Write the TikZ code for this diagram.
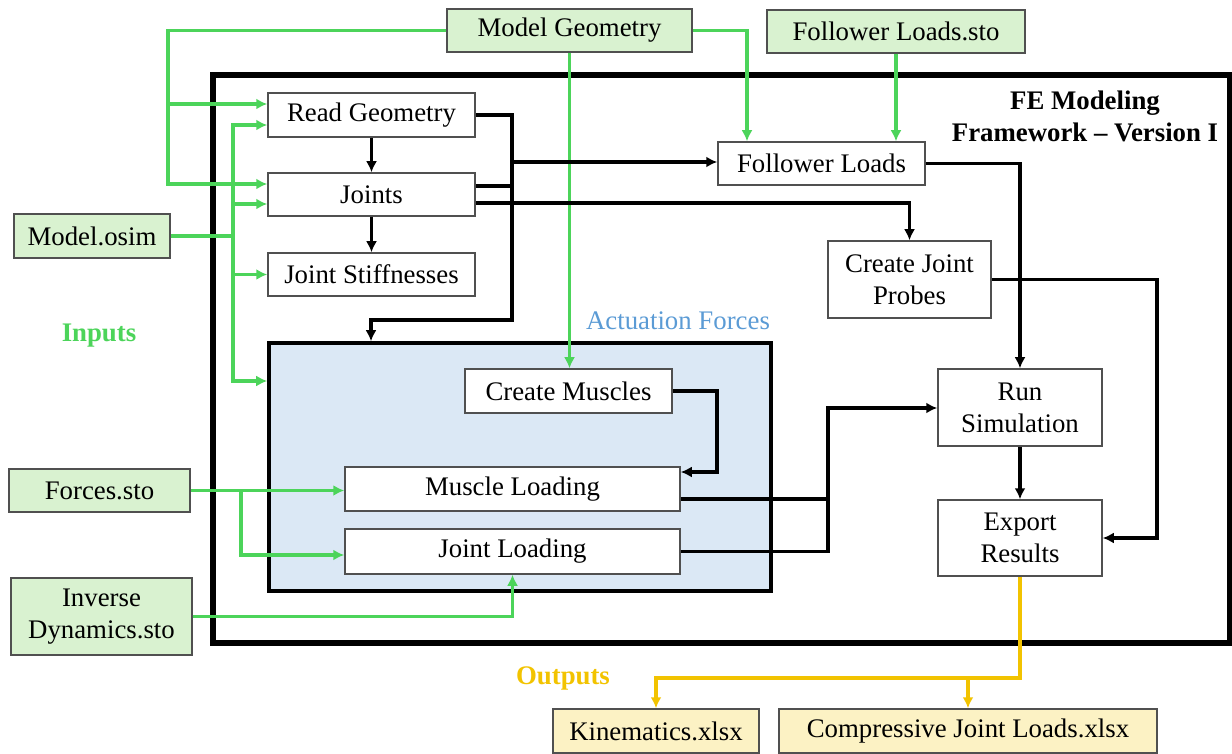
\documentclass[tikz,border=0pt]{standalone}
\usepackage{fontspec}
\setmainfont{Liberation Serif}
\usetikzlibrary{arrows.meta,positioning,calc}
\definecolor{gr}{HTML}{4CD45A}
\definecolor{grfill}{HTML}{D9F2D0}
\definecolor{yl}{HTML}{F2C300}
\definecolor{ylfill}{HTML}{FCF2C4}
\definecolor{blfill}{HTML}{DBE8F5}
\definecolor{bltxt}{HTML}{5B9BD5}
\definecolor{bord}{HTML}{505050}
\begin{document}
\begin{tikzpicture}[x=0.5pt,y=-0.5pt,
  font=\fontsize{13.4}{16}\selectfont,
  >={Latex[length=5.5pt,width=5.5pt]},
  box/.style={draw=bord,line width=0.75pt,fill=white,inner sep=0pt,align=center},
  inbox/.style={box,fill=grfill},
  outbox/.style={box,fill=ylfill},
  bline/.style={line width=1.8pt,black},
  gline/.style={line width=1.7pt,gr},
  yline/.style={line width=1.7pt,yl},
  lbl/.style={inner sep=0pt,align=center}]
\useasboundingbox (0,0) rectangle (1232,754);
% frames
\node[draw=black,line width=2.6pt,minimum width=508.5pt,minimum height=284pt,inner sep=0pt] (frame) at (721.5,359) {};
\node[draw=black,line width=1.8pt,fill=blfill,minimum width=251pt,minimum height=124pt,inner sep=0pt] (act) at (520,467) {};
% labels
\node[lbl,font=\fontsize{13.4}{16}\selectfont\bfseries] (title) at (1085,116) {FE Modeling\\Framework -- Version I};
\node[lbl,text=gr,font=\fontsize{13.4}{16}\selectfont\bfseries] (inputs) at (99,336) {Inputs};
\node[lbl,text=yl,font=\fontsize{13.4}{16}\selectfont\bfseries] (outputs) at (563,678) {Outputs};
\node[lbl,text=bltxt] (actlbl) at (678,321) {Actuation Forces};
% input nodes
\node[inbox,minimum width=122.5pt,minimum height=21.5pt] (mgeo) at (569.5,30.5) {Model Geometry};
\node[inbox,minimum width=129pt,minimum height=21.5pt] (fsto) at (896,31.5) {Follower Loads.sto};
\node[inbox,minimum width=78pt,minimum height=22pt] (osim) at (92,236) {Model.osim};
\node[inbox,minimum width=90.5pt,minimum height=21.5pt] (forces) at (99.5,490.5) {Forces.sto};
\node[inbox,minimum width=90.5pt,minimum height=38.5pt] (invdyn) at (101.5,616.5) {Inverse\\Dynamics.sto};
% process nodes
\node[box,minimum width=103.5pt,minimum height=22pt] (readgeo) at (371.5,115) {Read Geometry};
\node[box,minimum width=103.5pt,minimum height=21.5pt] (joints) at (371.5,194.5) {Joints};
\node[box,minimum width=103.5pt,minimum height=21.5pt] (jstiff) at (371.5,274.5) {Joint Stiffnesses};
\node[box,minimum width=103.5pt,minimum height=21.5pt] (floads) at (821.5,163.5) {Follower Loads};
\node[box,minimum width=81.5pt,minimum height=38.5pt] (probes) at (909.5,279.5) {Create Joint\\Probes};
\node[box,minimum width=103.5pt,minimum height=22pt] (cmus) at (568.5,391) {Create Muscles};
\node[box,minimum width=167.5pt,minimum height=22pt] (mload) at (512.5,489) {Muscle Loading};
\node[box,minimum width=167.5pt,minimum height=22.5pt] (jload) at (512.5,551.5) {Joint Loading};
\node[box,minimum width=82pt,minimum height=38.5pt] (runsim) at (1020,407.5) {Run\\Simulation};
\node[box,minimum width=82pt,minimum height=38pt] (export) at (1020,538) {Export\\Results};
% output nodes
\node[outbox,minimum width=103pt,minimum height=22pt] (kin) at (656,731) {Kinematics.xlsx};
\node[outbox,minimum width=189pt,minimum height=22pt] (comp) at (968,731) {Compressive Joint Loads.xlsx};
% junction coordinates
\coordinate (gj1) at (168,104);
\coordinate (gj2) at (233,236);
\coordinate (gj3) at (241,490.5);
\coordinate (bj1) at (512,162);
\coordinate (bj2) at (828,408);
\coordinate (yj1) at (968,678);
% green connectors
\draw[gline,->] (mgeo.west) -| (gj1) -- (readgeo.west |- gj1);
\draw[gline,->] (gj1) |- (joints.west |- 0,184);
\draw[gline,->] (osim.east) -| (233,125) -- (readgeo.west |- 0,125);
\draw[gline,->] (gj2) |- (joints.west |- 0,204);
\draw[gline,->] (gj2) |- (jstiff.west);
\draw[gline,->] (gj2) |- (act.west |- 0,381);
\draw[gline,->] (mgeo.south) -- (mgeo.south |- cmus.north);
\draw[gline,->] (mgeo.east) -| (747,0 |- floads.north);
\draw[gline,->] (fsto.south) -- (fsto.south |- floads.north);
\draw[gline,->] (forces.east) -- (mload.west |- forces.east);
\draw[gline,->] (gj3) |- (jload.west |- 0,555);
\draw[gline,->] (invdyn.east) -| (jload.south);
% black connectors
\draw[bline,->] (readgeo.south) -- (joints.north);
\draw[bline,->] (joints.south) -- (jstiff.north);
\draw[bline,->] (readgeo.east) -| (512,320) -| (371,0 |- act.north);
\draw[bline] (joints.east |- 0,186) -- (512,186);
\draw[bline,->] (bj1) -- (floads.west |- bj1);
\draw[bline,->] (joints.east |- 0,203) -| (probes.north);
\draw[bline,->] (floads.east) -| (runsim.north);
\draw[bline,->] (probes.east) -| (1157,0 |- export.east) -- (export.east);
\draw[bline,->] (cmus.east) -| (717,472) -- (mload.east |- 0,472);
\draw[bline] (mload.east |- 0,499) -| (bj2);
\draw[bline,->] (jload.east) -| (bj2) -- (runsim.west |- bj2);
\draw[bline,->] (runsim.south) -- (export.north);
% yellow connectors
\draw[yline,->] (export.south) |- (kin.north |- yj1) -- (kin.north);
\draw[yline,->] (yj1) -- (comp.north -| yj1);
\end{tikzpicture}
\end{document}
